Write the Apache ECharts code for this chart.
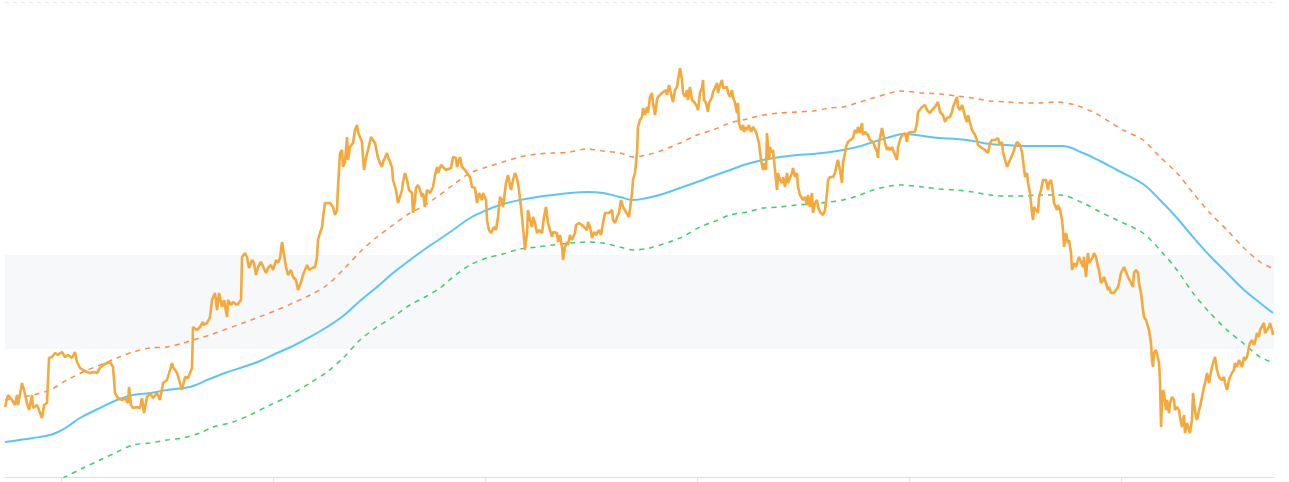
<!DOCTYPE html>
<html><head><meta charset="utf-8">
<script src="https://cdn.jsdelivr.net/npm/echarts@6/dist/echarts.min.js"></script>
<style>html,body{margin:0;padding:0;background:#fff}#c{width:1289px;height:482px}</style>
</head><body><div id="c"></div>
<script>
// x: trading-day index, y: price level
const tickDays = [56, 268, 480, 692, 904, 1116];
const bandRange = [128, 222];

const pricePoints = [
[0,70],[3,82],[7,77],[10,72],[12,82],[13,72],[17,94],[19,87],[22,74],[24,67],[27,82],[28,69],[32,72],[34,67],[37,59],[39,72],[42,74],[44,119],[47,120],[50,124],[53,122],[57,125],[60,120],[63,122],[67,119],[70,125],[72,115],[75,109],[78,107],[82,105],[85,104],[88,105],[92,104],[95,109],[98,112],[102,114],[105,115],[108,110],[110,84],[113,79],[117,77],[120,79],[123,74],[124,90],[126,72],[128,69],[132,70],[135,69],[137,79],[139,64],[142,80],[145,84],[148,79],[152,84],[155,77],[158,94],[162,97],[165,107],[167,114],[168,110],[172,104],[175,94],[177,87],[179,87],[180,100],[183,99],[187,109],[188,150],[192,147],[195,150],[198,155],[199,152],[202,154],[205,160],
[207,177],[210,184],[212,167],[214,184],[217,170],[219,177],[222,160],[223,177],[226,172],[228,175],[232,172],[236,177],[237,220],[240,224],[242,220],[244,209],[247,217],[249,214],[251,202],[253,210],[256,215],[258,214],[261,204],[263,209],[266,212],[268,207],[271,217],[273,214],[275,219],[277,235],[279,234],[281,210],[283,202],[286,207],[288,200],[291,197],[293,187],[296,195],[298,202],[300,207],[302,212],[304,207],[307,209],[310,210],[312,220],[313,237],[315,244],[317,250],[318,259],[320,274],[322,275],[325,274],[328,270],[330,262],[332,267],[333,290],[335,324],[337,327],[338,310],[340,315],[342,340],[343,317],[345,330],[348,334],[350,347],[352,352],[353,345],[355,340],[357,335],[358,320],[359,307],[361,319],[363,327],[366,340],[368,339],[370,334],[372,324],[373,319],[375,314],[377,310],[378,315],[380,317],[382,324],[383,320],[385,322],[387,310],[388,297],[391,287],[393,274],[394,277],[397,287],[398,295],[400,304],[402,297],[404,287],[405,289],[407,284],[408,264],[410,277],[411,289],[413,292],
[415,287],[417,280],[418,284],[420,270],[422,287],[425,284],[428,290],[430,302],[432,310],[433,304],[436,312],[438,310],[441,307],[443,309],[446,309],[448,320],[451,319],[452,310],[455,320],[457,310],[460,307],[462,304],[465,300],[467,290],[470,289],[472,274],[474,284],[477,277],[478,284],[481,277],[482,257],[484,247],[486,244],[489,250],[491,247],[493,260],[495,280],[497,277],[498,270],[501,294],[503,302],[506,287],[508,297],[510,304],[512,299],[514,287],[516,270],[517,260],[518,250],[520,227],[522,244],[523,267],[525,257],[527,250],[528,260],[530,254],[532,244],[534,247],[537,244],[539,260],[541,270],[543,254],[545,247],[547,240],[548,245],[550,244],[552,244],[553,235],[555,242],[557,230],[558,217],[560,230],[562,235],[563,232],[565,242],[567,237],[568,235],[570,244],[571,252],[574,254],[577,252],[579,254],[582,247],[583,255],[585,250],[587,239],[589,245],[591,242],[594,247],[596,242],[598,254],[600,264],[602,265],[604,264],[607,267],[608,257],[610,254],[612,260],[614,264],[616,277],[618,270],[619,270],[621,265],[622,264],[624,260],[626,260],[627,284],[628,297],[630,304],
[632,324],[633,350],[635,357],[637,360],[638,369],[640,362],[642,370],[643,364],[645,380],[647,384],[648,374],[650,362],[652,377],[653,380],[655,379],[657,384],[658,382],[661,387],[662,382],[664,392],[667,379],[668,375],[670,387],[672,390],[673,397],[675,409],[677,397],[678,384],[680,380],[682,387],[683,377],[685,390],[687,377],[688,377],[690,374],[692,370],[693,367],[695,384],[697,389],[698,397],[699,377],[701,374],[703,365],[704,374],[707,380],[708,385],[710,389],[712,394],[713,384],[715,392],[717,397],[718,389],[720,387],[722,390],[723,384],[725,380],[727,387],[728,380],[730,374],[732,364],[733,374],[734,354],[736,347],[738,352],[739,345],[741,350],[742,347],[744,352],[746,345],[748,350],[749,352],[751,345],[753,347],[754,334],[756,317],[758,307],[759,314],[761,307],[762,344],[764,317],[765,330],[767,324],[768,327],[770,307],[772,287],[773,304],[775,297],[777,294],[778,300],[780,290],[782,304],[783,294],[785,299],[787,304],[788,309],[790,300],[792,304],[793,290],[795,282],[797,284],[798,277],[800,280],[802,272],[803,282],[805,270],[807,284],[808,264],[810,274],[812,277],[813,270],[815,265],[817,267],[818,262],[820,267],[822,284],[823,297],[825,300],[827,302],[828,300],[830,304],[832,314],[833,317],[835,307],[837,294],[838,314],[840,324],
[841,330],[843,335],[845,337],[848,339],[850,347],[852,344],[853,350],[855,344],[857,354],[858,342],[860,345],[862,344],[863,342],[865,337],[867,339],[868,335],[870,330],[872,325],[873,319],[874,334],[877,349],[878,347],[880,334],[882,327],[883,330],[885,327],[887,330],[888,327],[890,325],[892,317],[893,330],[895,337],[897,342],[898,340],[900,344],[902,335],[903,344],[905,345],[907,345],[908,344],[910,345],[912,354],[913,365],[915,367],[917,370],[918,369],[920,372],[922,367],[923,369],[925,364],[927,367],[928,365],[930,370],[932,372],[933,375],[935,365],[937,365],[938,362],[940,355],[942,359],[943,357],[945,360],[947,365],[948,370],[950,372],[952,380],[953,370],[955,367],[957,372],[958,369],[960,360],[962,355],[963,362],[965,354],[967,347],[968,349],[970,342],[972,337],[973,332],[975,334],[977,329],[978,330],[980,327],[982,329],[983,324],[985,334],[987,337],[988,339],[990,337],[992,337],[993,339],[995,332],[997,335],[998,325],[1000,317],[1002,310],[1003,312],[1005,317],[1007,315],[1008,324],[1010,330],[1012,335],[1013,335],[1015,332],[1017,325],[1018,317],[1020,300],[1022,304],[1023,294],[1025,284],[1027,264],[1028,257],[1029,270],[1031,267],[1033,264],[1034,280],[1036,287],[1038,297],[1039,299],[1041,297],[1043,287],[1044,294],[1046,297],[1048,284],[1049,274],
[1050,275],[1052,267],[1053,272],[1055,267],[1057,257],[1058,247],[1059,230],[1061,244],[1063,234],[1064,237],[1066,224],[1067,207],[1069,214],[1071,210],[1073,217],[1074,220],[1076,215],[1078,210],[1079,220],[1081,200],[1083,224],[1084,214],[1086,217],[1088,220],[1089,224],[1091,220],[1093,210],[1094,207],[1096,194],[1098,197],[1099,200],[1101,199],[1103,187],[1104,190],[1106,184],[1108,182],[1109,184],[1111,184],[1113,190],[1114,194],[1116,204],[1118,204],[1119,210],[1121,209],[1123,200],[1124,199],[1126,194],[1128,190],[1129,204],[1131,207],[1133,204],[1134,194],[1136,184],[1138,167],[1139,160],[1141,157],[1143,150],[1144,147],[1146,134],[1147,117],[1148,110],[1149,124],[1151,127],[1153,127],[1154,114],[1155,97],[1156,50],[1157,74],[1158,87],[1159,84],[1161,67],[1162,77],[1164,64],[1165,74],[1167,80],[1169,77],[1170,67],[1172,70],[1174,67],[1175,60],[1177,50],[1179,62],[1180,44],[1182,54],[1184,47],[1185,44],[1187,57],[1188,84],[1189,74],[1191,60],[1192,57],[1194,67],[1195,70],[1197,80],[1199,90],[1200,94],[1202,104],[1204,94],[1205,100],[1207,110],[1209,117],[1210,120],[1212,107],[1214,100],[1215,100],[1217,97],[1219,100],[1220,94],[1222,87],[1224,97],[1225,100],[1227,104],[1229,107],[1230,114],[1232,110],[1234,117],[1235,117],[1237,110],[1239,120],[1240,117],[1242,120],[1244,130],[1245,134],[1247,137],[1249,132],[1250,135],[1252,144],[1254,140],[1255,147],[1257,147],[1259,154],[1260,144],[1262,147],[1264,150],[1265,154],[1267,147],[1268,142]
];

const maPoints = [
[0,35],[28,39],[45,42],[53,45],[62,50],[75,59],[95,69],[112,77],[128,82],[145,84],[162,87],[178,89],[188,91],[202,97],[220,104],[238,110],[255,116],[272,124],[288,131],[305,140],[322,150],[338,161],[355,176],[372,190],[388,204],[405,217],[420,228],[432,236],[448,247],[465,259],[482,267],[498,273],[515,277],[532,280],[548,282],[565,284],[582,285],[598,284],[615,280],[628,277],[642,279],[658,283],[675,289],[692,295],[708,301],[725,307],[742,313],[758,317],[775,320],[792,322],[808,323],[825,325],[838,327],[852,330],[868,335],[885,340],[898,343],[918,341],[935,339],[952,338],[968,336],[985,333],[1002,332],[1018,331],[1035,331],[1057,331],[1078,324],[1095,316],[1112,307],[1138,293],[1155,277],[1172,259],[1188,240],[1205,221],[1222,204],[1238,188],[1255,174],[1268,164]
];

const upperPoints = [
[0,77],[28,82],[45,87],[62,97],[78,105],[95,112],[112,119],[128,125],[145,129],[162,130],[178,134],[195,139],[205,142],[238,154],[272,167],[288,174],[305,182],[322,192],[338,207],[355,225],[372,240],[388,252],[405,264],[415,269],[432,280],[448,292],[465,304],[482,310],[498,315],[515,320],[532,323],[548,324],[565,325],[582,328],[598,326],[615,324],[628,320],[642,322],[658,327],[675,334],[692,342],[708,347],[725,354],[742,358],[758,362],[775,364],[792,365],[808,366],[825,369],[838,370],[852,374],[868,379],[885,384],[895,386],[918,384],[935,383],[952,381],[968,379],[985,376],[1002,375],[1018,374],[1035,374],[1050,375],[1070,372],[1090,364],[1105,355],[1118,347],[1138,337],[1155,320],[1172,304],[1188,284],[1205,264],[1222,247],[1238,230],[1255,215],[1267,209]
];

const lowerPoints = [
[40,-10],[58,-1],[78,9],[95,17],[112,25],[128,32],[145,34],[162,37],[178,39],[195,44],[208,50],[228,55],[245,62],[265,72],[282,80],[305,94],[322,105],[338,119],[355,137],[372,150],[388,160],[405,172],[420,180],[435,189],[448,200],[465,212],[482,219],[498,223],[515,228],[532,230],[548,232],[565,234],[582,235],[598,234],[615,230],[628,227],[645,229],[675,239],[695,250],[708,255],[725,262],[742,265],[758,269],[775,270],[792,272],[808,273],[825,275],[838,277],[852,281],[868,287],[885,291],[895,292],[918,290],[935,288],[952,287],[968,285],[985,282],[1002,281],[1018,281],[1035,282],[1055,282],[1078,274],[1095,265],[1112,257],[1138,244],[1155,227],[1172,207],[1188,184],[1205,164],[1222,147],[1238,134],[1255,120],[1267,115]
];

const chart = echarts.init(document.getElementById('c'), null, {renderer: 'canvas'});
chart.setOption({
  animation: false,
  grid: {left: 5, right: 15, top: 2, bottom: 5},
  xAxis: {
    type: 'value', min: 0, max: 1269,
    axisLine: {lineStyle: {color: '#e0e0e0'}},
    axisTick: {show: true, customValues: tickDays, length: 5, lineStyle: {color: '#e0e0e0'}},
    axisLabel: {show: false},
    splitLine: {show: false}
  },
  yAxis: {
    type: 'value', min: 0, max: 475, interval: 475,
    axisLine: {show: false}, axisTick: {show: false}, axisLabel: {show: false},
    splitLine: {show: true, lineStyle: {color: '#e6ebf3', type: [4, 4]}}
  },
  series: [
    {
      type: 'line', data: lowerPoints, showSymbol: false, symbol: 'none', smooth: 0.3, z: 2,
      lineStyle: {color: '#3fcc6e', width: 1.5, type: [5, 5]},
      markArea: {silent: true, itemStyle: {color: '#f6f8fa'}, data: [[{yAxis: bandRange[0]}, {yAxis: bandRange[1]}]]}
    },
    {type: 'line', data: upperPoints, showSymbol: false, symbol: 'none', smooth: 0.3, z: 2,
      lineStyle: {color: '#fb8c4a', width: 1.5, type: [5, 5]}},
    {type: 'line', data: maPoints, showSymbol: false, symbol: 'none', smooth: 0.4, z: 3,
      lineStyle: {color: '#5ac6f7', width: 2}},
    {type: 'line', data: pricePoints, showSymbol: false, symbol: 'none', z: 4,
      lineStyle: {color: '#f4a93c', width: 2.6}}
  ]
});
</script>
</body></html>
